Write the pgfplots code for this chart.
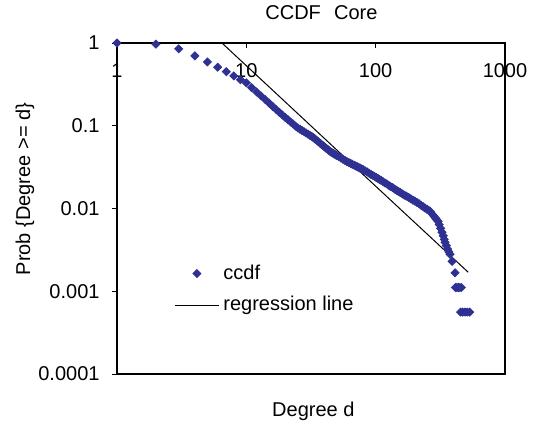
\documentclass[border=0pt]{standalone}
\usepackage{fontspec}
\setmainfont{Liberation Sans}
\usepackage{pgfplots}
\pgfplotsset{compat=1.18}
\definecolor{ccdfblue}{RGB}{46,49,146}
\pgfplotsset{
  markleg/.style={legend image code/.code={\draw[mark repeat=2,mark phase=2,##1] plot coordinates {(0pt,0pt) (11pt,0pt) (22pt,0pt)};}},
  lineleg/.style={legend image code/.code={\draw[##1] (0pt,0pt) -- (22pt,0pt);}},
}

\begin{document}
\fontsize{10}{12}\selectfont
\begin{tikzpicture}
\path[use as bounding box] (-58.5pt,-25pt) rectangle (211pt,187pt);
\begin{axis}[
  at={(0pt,0pt)}, anchor=south west,
  width=194pt, height=165.5pt, scale only axis,
  xmode=log, ymode=log,
  xmin=1, xmax=1000, ymin=1e-4, ymax=1,
  xtick={1,10,100,1000}, xticklabels={1,10,100,1000},
  ytick={1e-4,1e-3,1e-2,1e-1,1}, yticklabels={0.0001,0.001,0.01,0.1,1},
  xtick pos=right, xticklabel pos=right,
  ytick pos=left, yticklabel pos=left,
  tick align=inside, major tick length=2.5pt, minor tick length=0pt,
  every y tick/.append style={xshift=-2.5pt},
  every tick/.append style={black, line width=0.5pt},
  xticklabel style={anchor=center, yshift=-13.75pt, inner sep=0pt},
  yticklabel style={xshift=-5.2pt},
  axis line style={black, line width=0.7pt},
  clip=false,
  xlabel={Degree d},
  xlabel style={at={(axis description cs:0.506,-0.1136)}, anchor=center, inner sep=0pt},
  ylabel={Prob \{Degree >= d\}},
  ylabel style={at={(axis description cs:-0.237,0.559)}, anchor=center, inner sep=0pt},
  legend style={draw=none, fill=none, at={(axis description cs:0.147,0.256)},
    anchor=west, inner sep=0pt, row sep=3pt},
  legend cell align=left,
]
% ccdf points
\addplot[only marks, mark=square*, mark size=1.42pt, color=ccdfblue,
  mark options={rotate=45}, markleg]
coordinates {
(1,1) (2,0.97) (3,0.85) (4,0.70) (5,0.59) (6,0.51) (7,0.45) (8,0.40) (9,0.36)
(10,0.330) (11,0.289) (12,0.256) (13,0.229) (14,0.207) (15,0.188) (16,0.171)
(17,0.157) (18,0.145) (19,0.135) (20,0.126) (21,0.118) (22,0.111) (23,0.105)
(24,0.099) (25,0.0942) (26,0.0908) (27,0.0875) (28,0.0845) (29,0.0817)
(30,0.0791) (31,0.0766) (32,0.0743) (33,0.0718) (34,0.0692) (35,0.0667)
(36,0.0643) (37,0.0620) (38,0.0598) (39,0.0579) (40,0.0560) (41,0.0542)
(42,0.0526) (43,0.0511) (44,0.0495) (45,0.0483) (46,0.0473) (47,0.0463)
(48,0.0455) (49,0.0446) (50,0.0437) (52,0.0421) (54,0.0407) (56,0.0393)
(58,0.0380) (60,0.0368) (62,0.0359) (64,0.0351) (66,0.0342) (68,0.0334)
(70,0.0327) (72,0.0320) (74,0.0313) (76,0.0307) (78,0.0301) (80,0.0295)
(83,0.0285) (86,0.0276) (89,0.0267) (92,0.0258) (95,0.0251) (98,0.0244)
(101,0.0237) (104,0.0231) (107,0.0224) (110,0.0219) (114,0.0211)
(118,0.0204) (122,0.0198) (126,0.0191) (130,0.0185) (135,0.0179)
(140,0.0172) (145,0.0166) (150,0.0161) (155,0.0156) (161,0.0150)
(167,0.0145) (173,0.0141) (180,0.0136) (187,0.0131) (194,0.0126)
(201,0.0123) (209,0.0118) (217,0.0114) (225,0.0109) (233,0.0105)
(241,0.0101) (249,0.0098) (257,0.0095) (264,0.0092) (272,0.00865)
(280,0.0082) (288,0.00776) (296,0.00735) (304,0.0070) (310,0.0064)
(318,0.00575) (326,0.00516) (333,0.00468) (339,0.00424) (344,0.0039)
(352,0.00356) (360,0.00324) (368,0.0030) (376,0.0028) (390,0.0023)
(411,0.00167)
(414,0.00111) (425,0.00111) (437,0.00111) (448,0.00111) (460,0.00111)
(453,0.00056) (470,0.00056) (490,0.00056) (510,0.00056) (533,0.00056)
};
\addlegendentry{ccdf}
% fitted power law
\addplot[black, line width=0.5pt, lineleg]
coordinates {(6.48,1) (20,0.194) (100,0.0186) (519,0.0017)};
\addlegendentry{regression line}
% chart title
\node[inner sep=0pt] at (axis description cs:0.527,1.092) {CCDF\hspace{0.66em}Core};
\end{axis}
\end{tikzpicture}
\end{document}
